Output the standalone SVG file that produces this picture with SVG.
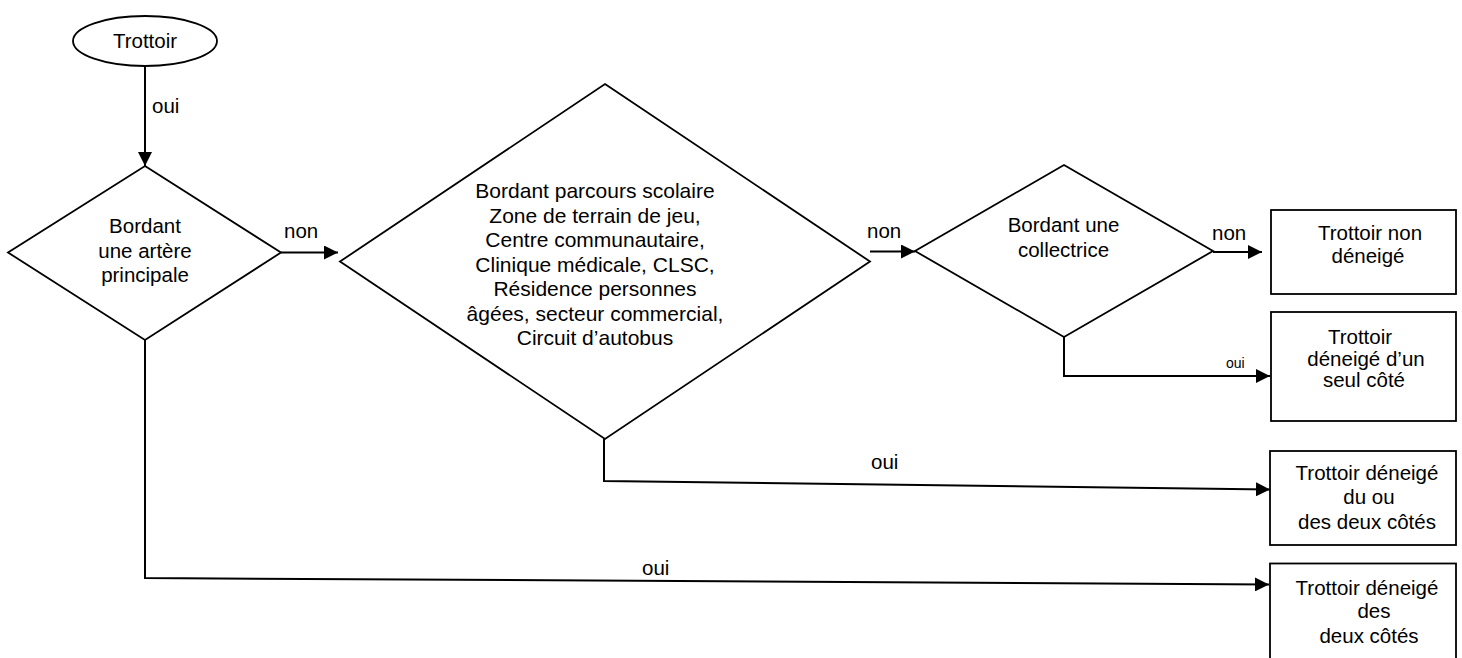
<svg xmlns="http://www.w3.org/2000/svg" width="1462" height="658" viewBox="0 0 1462 658">
<style>
.shape{fill:#fff;stroke:#000;stroke-width:1.8}
.conn{fill:none;stroke:#000;stroke-width:2}
text{font-family:"Liberation Sans",Arial,sans-serif;font-size:20.5px;fill:#000;text-anchor:middle}
.big{font-size:21px}
.lbl{text-anchor:start}
.small{font-size:14px;text-anchor:start}
</style>
<defs>
<marker id="arr" markerUnits="userSpaceOnUse" markerWidth="15" markerHeight="14" refX="14" refY="7" orient="auto">
<path d="M0,0 L14,7 L0,14 z" fill="#000"/>
</marker>
</defs>
<rect width="1462" height="658" fill="#fff"/>
<g id="connectors">
<line class="conn" x1="145" y1="66" x2="145" y2="166" marker-end="url(#arr)"/>
<line class="conn" x1="281" y1="252.5" x2="338" y2="252.5" marker-end="url(#arr)"/>
<line class="conn" x1="870" y1="251.5" x2="915" y2="251.5" marker-end="url(#arr)"/>
<line class="conn" x1="1213" y1="252" x2="1262" y2="252" marker-end="url(#arr)"/>
<polyline class="conn" points="1064,337 1064,376 1270,376" marker-end="url(#arr)"/>
<polyline class="conn" points="604,439 604,481 1270,489.5" marker-end="url(#arr)"/>
<polyline class="conn" points="145,340 145,578 1269,584.5" marker-end="url(#arr)"/>
<text class="lbl" x="152" y="113">oui</text>
<text class="lbl" x="284" y="238">non</text>
<text class="lbl" x="867" y="238">non</text>
<text class="lbl" x="1212" y="240">non</text>
<text class="small" x="1226" y="368">oui</text>
<text class="lbl" x="871" y="469">oui</text>
<text class="lbl" x="642" y="575">oui</text>
</g>
<g id="start">
<ellipse class="shape" cx="145" cy="41" rx="72" ry="25"/>
<text x="145" y="48">Trottoir</text>
</g>
<g id="d1">
<polygon class="shape" points="145,166 281,252.5 145,340 8,252.5"/>
<text x="145" y="233">Bordant</text>
<text x="145" y="258">une artère</text>
<text x="145" y="282">principale</text>
</g>
<g id="d2">
<polygon class="shape" points="605,84 870,261.5 605,439 340,261.5"/>
<text class="big" x="595" y="198">Bordant parcours scolaire</text>
<text class="big" x="595" y="222.5">Zone de terrain de jeu,</text>
<text class="big" x="595" y="247">Centre communautaire,</text>
<text class="big" x="595" y="271.5">Clinique médicale, CLSC,</text>
<text class="big" x="595" y="296">Résidence personnes</text>
<text class="big" x="595" y="320.5">âgées, secteur commercial,</text>
<text class="big" x="595" y="345">Circuit d’autobus</text>
</g>
<g id="d3">
<polygon class="shape" points="1064,165 1213,251 1064,337 915,251"/>
<text x="1063.5" y="232">Bordant une</text>
<text x="1063.5" y="257">collectrice</text>
</g>
<g id="b1">
<rect class="shape" x="1271" y="210" width="185" height="84"/>
<text x="1370" y="240">Trottoir non</text>
<text x="1368" y="263">déneigé</text>
</g>
<g id="b2">
<rect class="shape" x="1271" y="312" width="185" height="109"/>
<text x="1360" y="344">Trottoir</text>
<text x="1366" y="366">déneigé d’un</text>
<text x="1364" y="387">seul côté</text>
</g>
<g id="b3">
<rect class="shape" x="1270" y="451" width="186" height="94"/>
<text x="1367" y="480">Trottoir déneigé</text>
<text x="1369" y="504">du ou</text>
<text x="1367" y="529">des deux côtés</text>
</g>
<g id="b4">
<rect class="shape" x="1270" y="563.5" width="186" height="100"/>
<text x="1367" y="595">Trottoir déneigé</text>
<text x="1374" y="618">des</text>
<text x="1369" y="643">deux côtés</text>
</g>
</svg>
